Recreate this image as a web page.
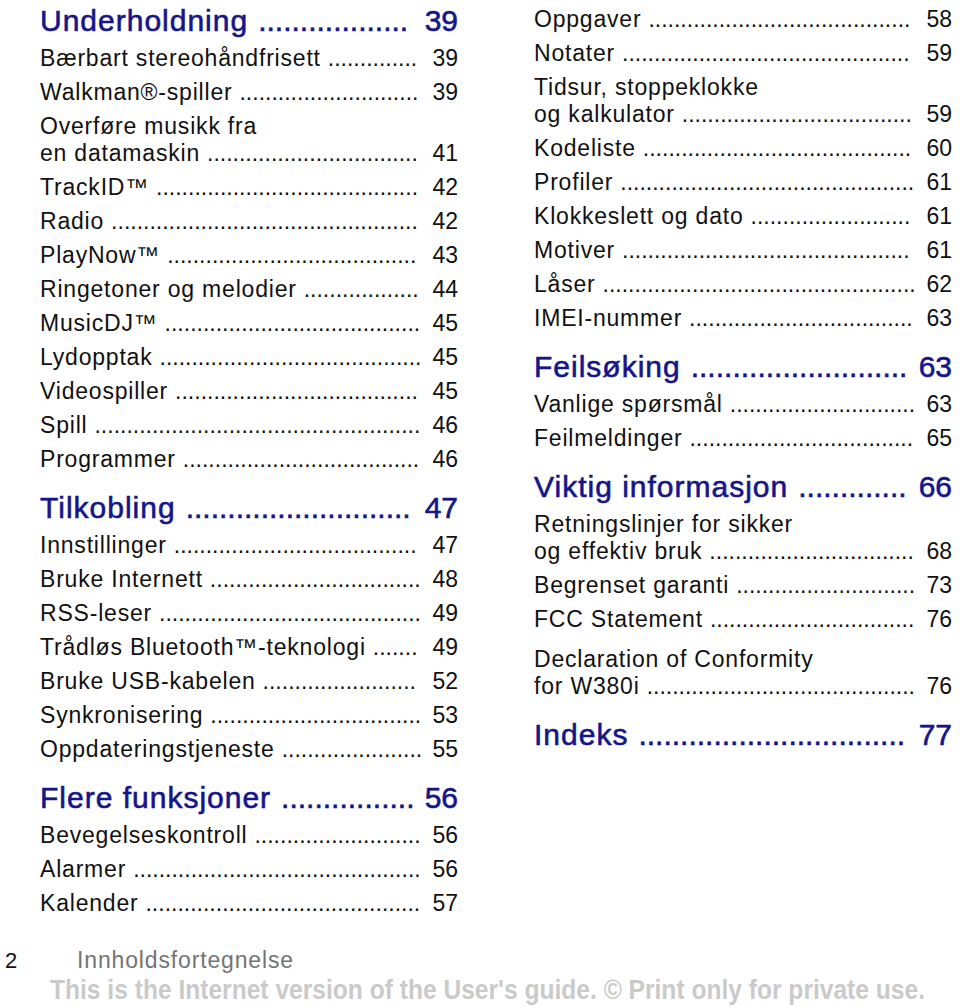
<!DOCTYPE html>
<html>
<head>
<meta charset="utf-8">
<script src="https://cdn.jsdelivr.net/npm/chart.js@4"></script>
<style>
html, body { margin: 0; padding: 0; background: #fff; }
body { width: 960px; height: 1007px; position: relative; overflow: hidden;
  font-family: "Liberation Sans", Arial, sans-serif; color: #111; }
.col { position: absolute; width: 418px; }
.item { padding: 3.5px 0; font-size: 23px; line-height: 27px; letter-spacing: 0.8px; }
.head { font-size: 30px; line-height: 30px; color: #15158a; padding: 17px 0 5px 0; height: 30px;
  letter-spacing: 1px; -webkit-text-stroke: 0.6px #15158a; }
.para { margin-top: 6px; }
.ln { display: flex; white-space: nowrap; }
.dots { flex: 1; white-space: nowrap; letter-spacing: 0; text-align: left;
  margin: 0 4px 0 7px; }
.head .dots { margin: 0 2px 0 10px; }
.num { text-align: right; letter-spacing: 0; }
#foot1 { position: absolute; left: 5px; top: 948px; font-size: 22px; color: #111; }
#foot2 { position: absolute; left: 77px; top: 947px; font-size: 23px; color: #747474; letter-spacing: 0.85px; }
#foot3 { position: absolute; left: 50px; top: 975px; font-size: 27px; font-weight: bold; color: #cacaca;
  white-space: nowrap; transform-origin: 0 0; }
</style>
</head>
<body>
<div class="col" id="left" style="left:40px; top:-11px;"></div>
<div class="col" id="right" style="left:534px; top:2px;"></div>
<div id="foot1">2</div>
<div id="foot2">Innholdsfortegnelse</div>
<div id="foot3">This is the Internet version of the User's guide. © Print only for private use.</div>
<script>
// venstre kolonne
const venstreTitler = ["Underholdning", "Bærbart stereohåndfrisett", "Walkman®-spiller",
  "Overføre musikk fra|en datamaskin", "TrackID™", "Radio", "PlayNow™", "Ringetoner og melodier",
  "MusicDJ™", "Lydopptak", "Videospiller", "Spill", "Programmer",
  "Tilkobling", "Innstillinger", "Bruke Internett", "RSS-leser", "Trådløs Bluetooth™-teknologi",
  "Bruke USB-kabelen", "Synkronisering", "Oppdateringstjeneste",
  "Flere funksjoner", "Bevegelseskontroll", "Alarmer", "Kalender"]
const venstreSider = [39, 39, 39, 41, 42, 42, 43, 44, 45, 45, 45, 46, 46,
  47, 47, 48, 49, 49, 52, 53, 55, 56, 56, 56, 57]
const venstreType = ["h","i","i","i","i","i","i","i","i","i","i","i","i",
  "h","i","i","i","i","i","i","i","h","i","i","i"]

// høyre kolonne
const hoyreTitler = ["Oppgaver", "Notater", "Tidsur, stoppeklokke|og kalkulator", "Kodeliste",
  "Profiler", "Klokkeslett og dato", "Motiver", "Låser", "IMEI-nummer",
  "Feilsøking", "Vanlige spørsmål", "Feilmeldinger",
  "Viktig informasjon", "Retningslinjer for sikker|og effektiv bruk", "Begrenset garanti",
  "FCC Statement", "Declaration of Conformity|for W380i", "Indeks"]
const hoyreSider = [58, 59, 59, 60, 61, 61, 61, 62, 63, 63, 63, 65, 66, 68, 73, 76, 76, 77]
const hoyreType = ["i","i","i","i","i","i","i","i","i","h","i","i","h","i","i","i","p","h"]

var maaler = document.createElement('canvas').getContext('2d')

function lagKolonne(id, titler, sider, typer) {
  var kol = document.getElementById(id)
  for (let i = 0; i < titler.length; i++) {
    var el = document.createElement('div')
    el.className = typer[i] == 'h' ? 'head' : (typer[i] == 'p' ? 'item para' : 'item')
    var linjer = titler[i].split('|')
    for (let j = 0; j < linjer.length - 1; j++) {
      var l = document.createElement('div')
      l.className = 'ln'
      l.textContent = linjer[j]
      el.appendChild(l)
    }
    var ln = document.createElement('div')
    ln.className = 'ln'
    ln.innerHTML = '<span></span><span class="dots"></span><span class="num"></span>'
    ln.children[0].textContent = linjer[linjer.length - 1]
    ln.children[2].textContent = sider[i]
    el.appendChild(ln)
    kol.appendChild(el)

    // fyll prikkene så de passer (en prikk mindre for sikkerhets skyld)
    var d = ln.children[1]
    var cs = getComputedStyle(d)
    maaler.font = cs.fontSize + ' "Liberation Sans", Arial, sans-serif'
    var b = maaler.measureText('.').width
    var n = Math.floor(d.clientWidth / b) - 1
    d.textContent = '.'.repeat(Math.max(n, 0))
  }
}

lagKolonne('left', venstreTitler, venstreSider, venstreType)
lagKolonne('right', hoyreTitler, hoyreSider, hoyreType)

// vannmerket skal dekke 50..925
var vm = document.getElementById('foot3')
vm.style.transform = 'scaleX(' + (875 / vm.scrollWidth) + ')'
</script>
</body>
</html>
